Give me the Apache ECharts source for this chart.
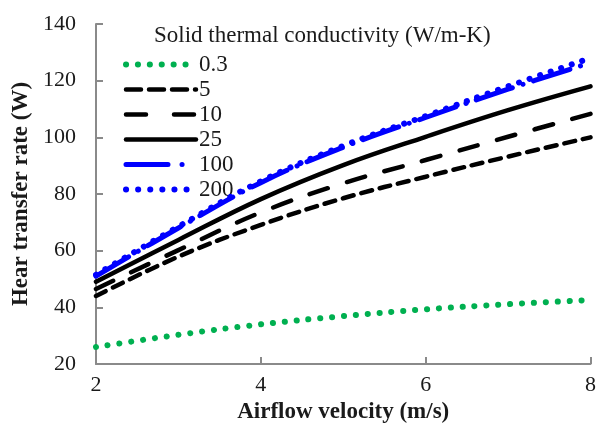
<!DOCTYPE html>
<html><head><meta charset="utf-8">
<script src="https://cdn.jsdelivr.net/npm/echarts@6/dist/echarts.min.js"></script>
<style>html,body{margin:0;padding:0;background:#fff}#c{width:599px;height:433px}</style>
</head><body><div id="c"></div>
<script>
const velocity = [2, 3, 4, 5, 6, 7, 8];
const k0_3 = [26, 30.3, 34, 36.9, 39.3, 41.1, 42.6];
const k5 = [44, 57.9, 69.1, 78.5, 86.1, 93.2, 100];
const k10 = [46.5, 60.2, 73.5, 83.8, 92, 100.2, 108.3];
const k25 = [49, 63.8, 78.2, 90.2, 100.2, 109.6, 118];
const k100 = [51, 68, 84, 96.5, 107, 117, 126.3];
const k200 = [51.5, 68.5, 84.5, 97, 107.5, 118, 128];
const seriesNames = ['0.3', '5', '10', '25', '100', '200'];
const legendTitle = 'Solid thermal conductivity (W/m-K)';
const xTitle = 'Airflow velocity (m/s)';
const yTitle = 'Hear transfer rate (W)';

const font = 'Liberation Serif';
function pts(arr){ return velocity.map((v,i)=>[v, arr[i]]); }
const styles = [
  {color:'#00b050', width:6, type:[0.1, 11.8], cap:'round'},
  {color:'#000', width:4.5, type:[11, 8], cap:'round'},
  {color:'#000', width:4.5, type:[19, 20], cap:'round'},
  {color:'#000', width:4.5, type:'solid', cap:'round'},
  {color:'#0000ff', width:5, type:[38, 11, 0.1, 11], cap:'round'},
  {color:'#0000ff', width:6, type:[0.1, 11], cap:'round'}
];
const legendStyles = [
  {type:[0.1, 11.8]}, {type:[15, 8]}, {type:[20, 28]}, {type:'solid'}, {type:[42, 14, 0.1, 20]}, {type:[0.1, 12]}
];
const datas = [k0_3, k5, k10, k25, k100, k200];
const series = datas.map((d,i)=>({
  name: seriesNames[i], type:'line', data: pts(d), smooth: 0.4, showSymbol:false, symbol:'none',
  lineStyle:{color:styles[i].color, width:styles[i].width, type:styles[i].type, cap:styles[i].cap},
  itemStyle:{color:styles[i].color}, z: 4 + i
}));
const chart = echarts.init(document.getElementById('c'), null, {renderer:'canvas'});
chart.setOption({
  animation:false,
  backgroundColor:'#fff',
  title:{text:legendTitle, left:149, top:19, textStyle:{fontFamily:font, fontSize:23, fontWeight:'normal', color:'#1a1a1a'}},
  legend:{orient:'vertical', left:118, top:48, itemWidth:70, itemHeight:20, itemGap:2,
    itemStyle:{opacity:0},
    data: seriesNames.map((n,i)=>({name:n, lineStyle:{width:styles[i].width, color:styles[i].color, type:legendStyles[i].type, cap:'round'}})),
    textStyle:{fontFamily:font, fontSize:23, color:'#1a1a1a', padding:[0,0,0,-2]}},
  grid:{left:96, right:7, top:24, bottom:69, containLabel:false},
  xAxis:{type:'value', min:2, max:8, interval:2,
    name:xTitle, nameLocation:'middle', nameGap:33,
    nameTextStyle:{fontFamily:font, fontSize:23, fontWeight:'bold', color:'#1a1a1a'},
    axisLine:{lineStyle:{color:'#8a8a8a', width:2}},
    axisTick:{inside:true, length:7, lineStyle:{color:'#8a8a8a', width:2}},
    axisLabel:{fontFamily:font, fontSize:22, color:'#1a1a1a', margin:10},
    splitLine:{show:false}},
  yAxis:{type:'value', min:20, max:140, interval:20,
    name:yTitle, nameLocation:'middle', nameGap:63, nameRotate:90,
    nameTextStyle:{fontFamily:font, fontSize:23, fontWeight:'bold', color:'#1a1a1a'},
    axisLine:{show:true, lineStyle:{color:'#8a8a8a', width:2}},
    axisTick:{show:true, inside:true, length:7, lineStyle:{color:'#8a8a8a', width:2}},
    axisLabel:{fontFamily:font, fontSize:22, color:'#1a1a1a', margin:20},
    splitLine:{show:false}},
  series: series
});
</script></body></html>
